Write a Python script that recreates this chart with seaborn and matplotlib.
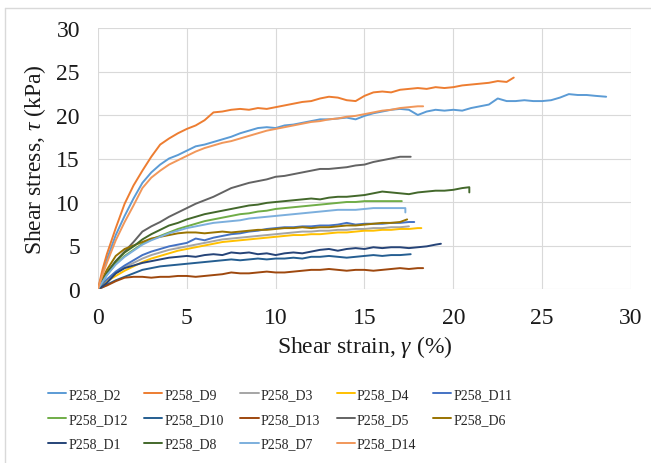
import matplotlib
matplotlib.use("Agg")
import matplotlib.pyplot as plt
from matplotlib.lines import Line2D
import pandas as pd
import seaborn as sns

# Common strain sampling grid (%), series are read on this grid
STRAIN = [0, 0.25, 0.5, 1, 1.5, 2, 2.5, 3, 3.5, 4, 4.5, 5, 5.5, 6, 6.5, 7, 7.5,
          8, 8.5, 9, 9.5, 10, 10.5, 11, 11.5, 12, 12.5, 13, 13.5, 14, 14.5, 15,
          15.5, 16, 16.5, 17, 17.5, 18, 18.5, 19, 19.5, 20, 20.5, 21, 21.5, 22,
          22.5, 23, 23.5, 24, 24.5, 25, 25.5, 26, 26.5, 27, 27.5, 28, 28.5]

# Shear stress (kPa) per specimen; rows: 0-1.5, 2-3.5, 4-5.5, ... % strain
D2 = [0.0, 1.8, 3.4, 6.2, 8.4,
      10.4, 12.2, 13.4, 14.3,
      15.0, 15.4, 15.9, 16.4,
      16.6, 16.9, 17.2, 17.5,
      17.9, 18.2, 18.5, 18.6,
      18.5, 18.8, 18.9, 19.1,
      19.3, 19.5, 19.5, 19.6,
      19.7, 19.5, 19.9, 20.2,
      20.4, 20.6, 20.7, 20.6,
      20.0, 20.4, 20.6, 20.5,
      20.6, 20.5, 20.8, 21.0,
      21.2, 21.9, 21.6, 21.6,
      21.7, 21.6, 21.6, 21.7,
      22.0, 22.4, 22.3, 22.3,
      22.2]
D2_END_X, D2_END_Y = [28.6], [22.1]

D9 = [0.0, 2.2, 4.0, 7.0, 9.8,
      11.9, 13.6, 15.2, 16.6,
      17.3, 17.9, 18.4, 18.8,
      19.4, 20.3, 20.4, 20.6,
      20.7, 20.6, 20.8, 20.7,
      20.9, 21.1, 21.3, 21.5,
      21.6, 21.9, 22.1, 22.0,
      21.7, 21.6, 22.2, 22.6,
      22.7, 22.6, 22.9, 23.0,
      23.1, 23.0, 23.2, 23.1,
      23.2, 23.4, 23.5, 23.6,
      23.7, 23.9, 23.8]
D9_END_X, D9_END_Y = [23.4], [24.3]

D3 = [0.0, 0.5, 1.0, 1.8, 2.5,
      3.0, 3.5, 3.9, 4.2,
      4.5, 4.7, 4.9, 5.1,
      5.3, 5.5, 5.7, 5.8,
      5.9, 6.0, 6.1, 6.2,
      6.3, 6.4, 6.5, 6.6,
      6.6, 6.7, 6.7, 6.8,
      6.8, 6.9, 6.9, 7.0,
      7.0, 7.1, 7.1]
D3_END_X, D3_END_Y = [17.5], [7.2]

D4 = [0.0, 0.5, 0.9, 1.5, 2.1,
      2.6, 3.1, 3.5, 3.8,
      4.1, 4.4, 4.6, 4.8,
      5.0, 5.2, 5.4, 5.5,
      5.6, 5.7, 5.8, 5.9,
      6.0, 6.1, 6.2, 6.2,
      6.3, 6.3, 6.4, 6.5,
      6.5, 6.6, 6.7, 6.7,
      6.8, 6.8, 6.9, 6.9,
      7.0]
D4_END_X, D4_END_Y = [18.2], [7.0]

D11 = [0.0, 0.6, 1.1, 2.0, 2.7,
       3.3, 3.9, 4.3, 4.6,
       4.9, 5.1, 5.3, 5.8,
       5.6, 5.9, 6.1, 6.3,
       6.4, 6.6, 6.7, 6.9,
       7.0, 7.1, 7.1, 7.2,
       7.2, 7.3, 7.3, 7.4,
       7.6, 7.4, 7.5, 7.5,
       7.5, 7.6, 7.6, 7.7]
D11_END_X, D11_END_Y = [17.8], [7.7]

D12 = [0.0, 0.8, 1.6, 2.9, 3.8,
       4.5, 5.2, 5.7, 6.1,
       6.5, 6.9, 7.2, 7.5,
       7.8, 8.0, 8.2, 8.4,
       8.6, 8.7, 8.9, 9.0,
       9.2, 9.3, 9.4, 9.5,
       9.6, 9.7, 9.8, 9.9,
       10.0, 10.0, 10.1, 10.1,
       10.1, 10.1]
D12_END_X, D12_END_Y = [17.1], [10.1]

D10 = [0.0, 0.2, 0.5, 1.0, 1.4,
       1.8, 2.2, 2.4, 2.6,
       2.7, 2.8, 2.9, 3.0,
       3.1, 3.2, 3.3, 3.4,
       3.3, 3.4, 3.5, 3.4,
       3.5, 3.5, 3.6, 3.5,
       3.7, 3.7, 3.8, 3.7,
       3.6, 3.7, 3.8, 3.9,
       3.8, 3.9, 3.9]
D10_END_X, D10_END_Y = [17.6], [4.0]

D13 = [0.0, 0.2, 0.4, 0.9, 1.3,
       1.4, 1.4, 1.3, 1.4,
       1.4, 1.5, 1.5, 1.4,
       1.5, 1.6, 1.7, 1.9,
       1.8, 1.8, 1.9, 2.0,
       1.9, 1.9, 2.0, 2.1,
       2.2, 2.2, 2.3, 2.2,
       2.1, 2.2, 2.2, 2.1,
       2.2, 2.3, 2.4, 2.3,
       2.4]
D13_END_X, D13_END_Y = [18.3], [2.4]

D5 = [0.0, 1.0, 1.9, 3.2, 4.3,
      5.4, 6.6, 7.2, 7.7,
      8.3, 8.8, 9.3, 9.8,
      10.2, 10.6, 11.1, 11.6,
      11.9, 12.2, 12.4, 12.6,
      12.9, 13.0, 13.2, 13.4,
      13.6, 13.8, 13.8, 13.9,
      14.0, 14.2, 14.3, 14.6,
      14.8, 15.0, 15.2]
D5_END_X, D5_END_Y = [17.6], [15.2]

D6 = [0.0, 1.2, 2.2, 3.8, 4.6,
      5.0, 5.4, 5.8, 6.0,
      6.2, 6.4, 6.5, 6.5,
      6.4, 6.5, 6.6, 6.5,
      6.6, 6.7, 6.8, 6.8,
      6.9, 7.0, 7.0, 7.1,
      7.0, 7.1, 7.1, 7.2,
      7.3, 7.3, 7.4, 7.5,
      7.6, 7.6, 7.7]
D6_END_X, D6_END_Y = [17.4], [8.0]

D1 = [0.0, 0.3, 0.7, 1.8, 2.4,
      2.7, 3.0, 3.2, 3.4,
      3.6, 3.7, 3.8, 3.7,
      3.9, 4.0, 3.9, 4.2,
      4.1, 4.2, 4.0, 4.1,
      3.9, 4.1, 4.2, 4.1,
      4.3, 4.5, 4.6, 4.4,
      4.6, 4.7, 4.6, 4.8,
      4.7, 4.8, 4.8, 4.7,
      4.8, 4.9, 5.1]
D1_END_X, D1_END_Y = [19.3], [5.2]

D8 = [0.0, 0.9, 1.8, 3.2, 4.2,
      4.9, 5.7, 6.3, 6.8,
      7.3, 7.6, 8.0, 8.3,
      8.6, 8.8, 9.0, 9.2,
      9.4, 9.6, 9.7, 9.9,
      10.0, 10.1, 10.2, 10.3,
      10.4, 10.3, 10.5, 10.6,
      10.6, 10.7, 10.8, 11.0,
      11.2, 11.1, 11.0, 10.9,
      11.1, 11.2, 11.3, 11.3,
      11.4, 11.6]
D8_END_X, D8_END_Y = [20.9, 20.9], [11.7, 11.1]

D7 = [0.0, 0.8, 1.6, 2.8, 3.7,
      4.4, 5.1, 5.6, 6.0,
      6.4, 6.7, 7.0, 7.2,
      7.4, 7.6, 7.7, 7.8,
      7.9, 8.1, 8.2, 8.3,
      8.4, 8.5, 8.6, 8.7,
      8.8, 8.9, 9.0, 9.1,
      9.1, 9.1, 9.2, 9.3,
      9.3, 9.3, 9.3]
D7_END_X, D7_END_Y = [17.3, 17.3], [9.3, 8.8]

D14 = [0.0, 1.6, 3.0, 5.6, 7.7,
       9.6, 11.6, 12.8, 13.6,
       14.3, 14.8, 15.3, 15.8,
       16.2, 16.5, 16.8, 17.0,
       17.3, 17.6, 17.9, 18.2,
       18.4, 18.6, 18.8, 19.0,
       19.2, 19.3, 19.5, 19.6,
       19.8, 19.9, 20.1, 20.3,
       20.5, 20.6, 20.8, 20.9,
       21.0]
D14_END_X, D14_END_Y = [18.3], [21.0]

SERIES = [
    ("P258_D2", D2, D2_END_X, D2_END_Y, "#5B9BD5"),
    ("P258_D9", D9, D9_END_X, D9_END_Y, "#ED7D31"),
    ("P258_D3", D3, D3_END_X, D3_END_Y, "#A5A5A5"),
    ("P258_D4", D4, D4_END_X, D4_END_Y, "#FFC000"),
    ("P258_D11", D11, D11_END_X, D11_END_Y, "#4472C4"),
    ("P258_D12", D12, D12_END_X, D12_END_Y, "#70AD47"),
    ("P258_D10", D10, D10_END_X, D10_END_Y, "#255E91"),
    ("P258_D13", D13, D13_END_X, D13_END_Y, "#9E480E"),
    ("P258_D5", D5, D5_END_X, D5_END_Y, "#636363"),
    ("P258_D6", D6, D6_END_X, D6_END_Y, "#997300"),
    ("P258_D1", D1, D1_END_X, D1_END_Y, "#264478"),
    ("P258_D8", D8, D8_END_X, D8_END_Y, "#43682B"),
    ("P258_D7", D7, D7_END_X, D7_END_Y, "#7CAFDD"),
    ("P258_D14", D14, D14_END_X, D14_END_Y, "#F1975A"),
]

rows = []
for name, ys, end_x, end_y, _ in SERIES:
    xs = STRAIN[:len(ys)] + end_x
    for i, (x, y) in enumerate(zip(xs, ys + end_y)):
        rows.append({"specimen": name, "order": i, "strain": x, "stress": y})
df = pd.DataFrame(rows)
palette = {name: col for name, _, _, _, col in SERIES}
names = [s[0] for s in SERIES]

sns.set_theme(style="white")
plt.rcParams["font.family"] = ["Liberation Serif", "DejaVu Serif"]
plt.rcParams["mathtext.fontset"] = "custom"
plt.rcParams["mathtext.rm"] = "Liberation Serif"
plt.rcParams["mathtext.it"] = "Liberation Serif:italic"

fig = plt.figure(figsize=(6.51, 4.64), dpi=100)
ax = fig.add_axes([0.1505, 0.375, 0.8188, 0.5625])

sns.lineplot(data=df, x="strain", y="stress", hue="specimen", hue_order=names,
             palette=palette, estimator=None, sort=False, units="specimen",
             linewidth=1.4, legend=False, ax=ax)

ax.set_xlim(0, 30)
ax.set_ylim(0, 30)
ax.set_xticks([0, 5, 10, 15, 20, 25, 30])
ax.set_yticks([0, 5, 10, 15, 20, 25, 30])
ax.grid(True, color="#D9D9D9", linewidth=0.8)
ax.set_axisbelow(True)
for sp in ax.spines.values():
    sp.set_visible(False)
ax.tick_params(axis="both", length=0, labelsize=17, colors="#1a1a1a")
ax.tick_params(axis="x", pad=13)
ax.tick_params(axis="y", pad=13)

ax.set_xlabel(r"Shear strain, $\it{\gamma}$ (%)", fontsize=17, color="#1a1a1a")
ax.set_ylabel(r"Shear stress, $\it{\tau}$ (kPa)", fontsize=17, color="#1a1a1a")
ax.xaxis.set_label_coords(0.5, -0.17)
ax.yaxis.set_label_coords(-0.094, 0.5)

# legend laid out row by row (matplotlib fills columns first)
legend_order = ["P258_D2", "P258_D12", "P258_D1",
                "P258_D9", "P258_D10", "P258_D8",
                "P258_D3", "P258_D13", "P258_D7",
                "P258_D4", "P258_D5", "P258_D14",
                "P258_D11", "P258_D6"]
handles = [Line2D([], [], color=palette[n], linewidth=1.4) for n in legend_order]
fig.legend(handles, legend_order, loc="upper left",
           bbox_to_anchor=(48 / 651, 1 - 389 / 464), ncol=5, frameon=False,
           fontsize=10, handlelength=1.3, handletextpad=0.15,
           columnspacing=1.2, labelspacing=0.85, borderpad=0, borderaxespad=0)

# chart-area border
fig.add_artist(Line2D([5 / 651, 1], [1 - 9 / 464] * 2, color="#D9D9D9",
                      linewidth=1, transform=fig.transFigure))
fig.add_artist(Line2D([5 / 651] * 2, [0, 1 - 9 / 464], color="#D9D9D9",
                      linewidth=1, transform=fig.transFigure))

fig.savefig("out.png", dpi=100)
